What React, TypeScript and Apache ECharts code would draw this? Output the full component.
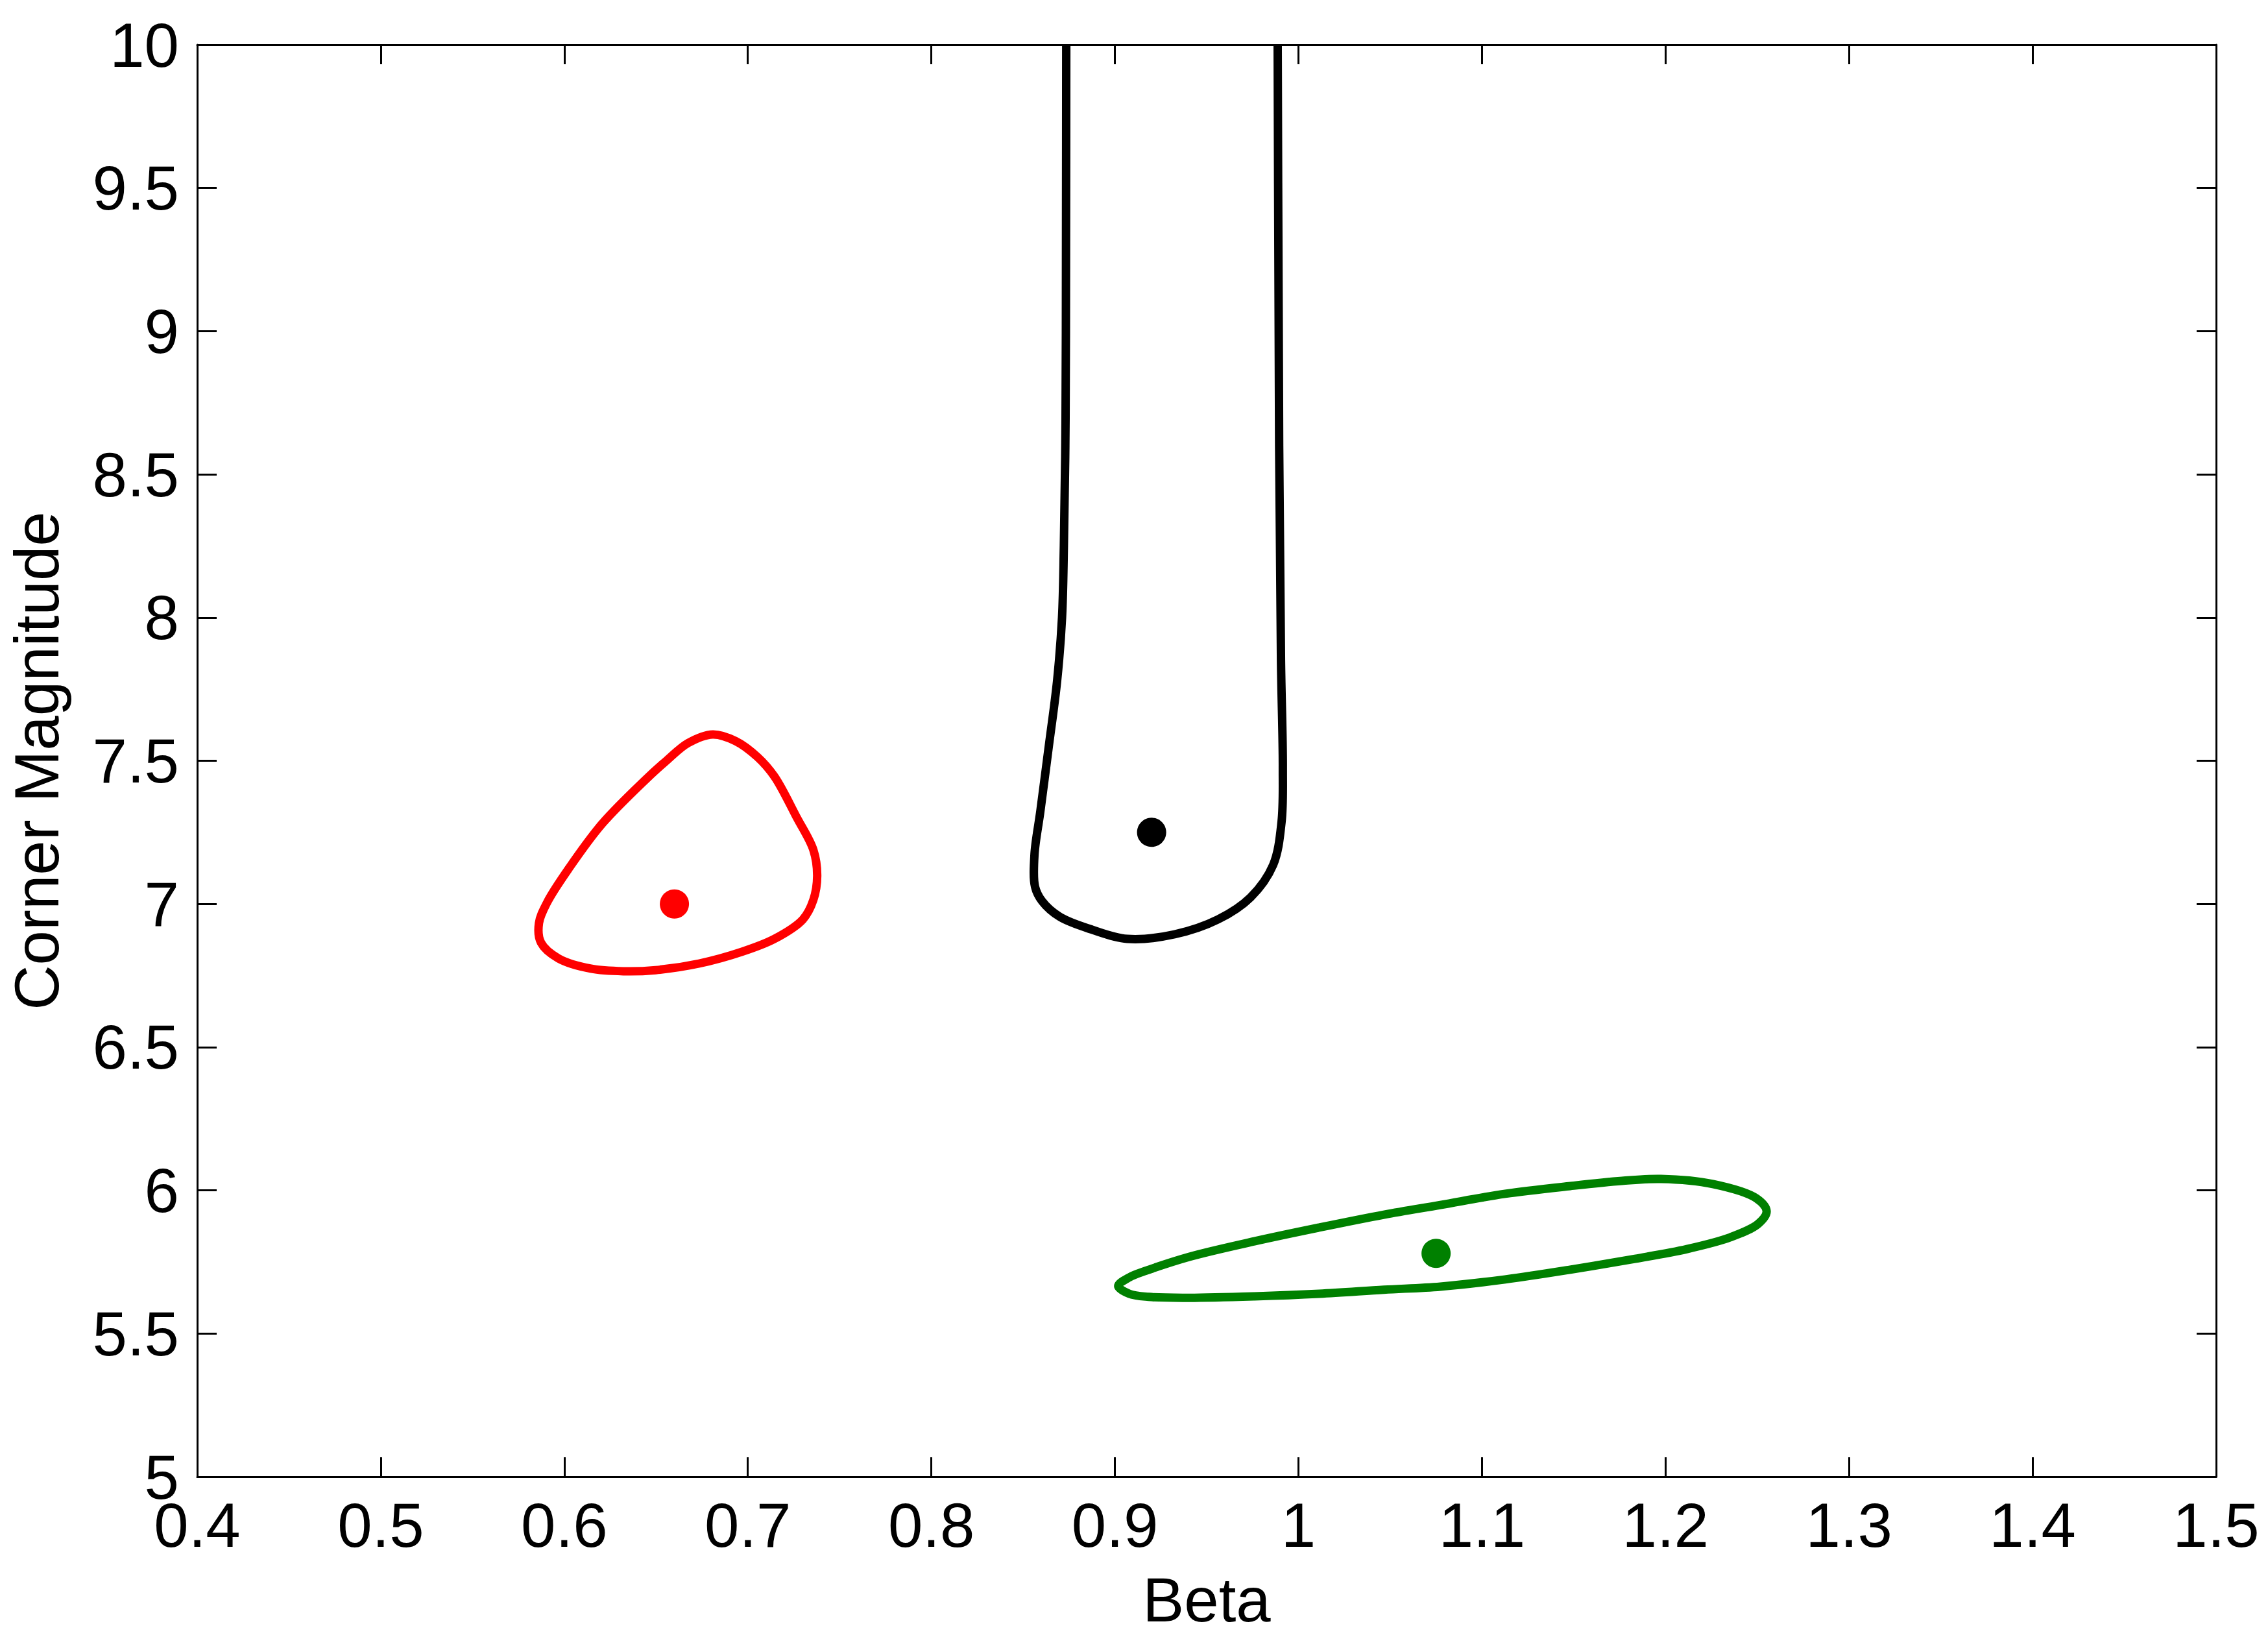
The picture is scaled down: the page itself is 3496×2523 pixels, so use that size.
import React, { useEffect, useRef } from "react";
import * as echarts from "echarts";

// Axis ranges / ticks
const betaMin = 0.4;
const betaMax = 1.5;
const betaStep = 0.1;
const magMin = 5;
const magMax = 10;
const magStep = 0.5;

// Red confidence contour (closed)
const redBeta = [0.6809, 0.6933, 0.7053, 0.7145, 0.7265, 0.7357, 0.7378, 0.7357, 0.73, 0.7145, 0.6968, 0.6735, 0.6498, 0.6322, 0.6145, 0.5968, 0.5873, 0.5862, 0.5908, 0.6028, 0.6205, 0.6438, 0.6558, 0.6675];
const redMag = [7.592, 7.569, 7.513, 7.445, 7.304, 7.189, 7.098, 7.014, 6.946, 6.878, 6.833, 6.792, 6.769, 6.765, 6.774, 6.81, 6.865, 6.933, 7.007, 7.127, 7.279, 7.431, 7.501, 7.562];

// Black confidence contour (open at the top of the plot)
const blackBeta = [0.8735, 0.8733, 0.873, 0.8722, 0.8712, 0.8685, 0.864, 0.8594, 0.8562, 0.8565, 0.8603, 0.87, 0.8876, 0.9067, 0.9325, 0.9562, 0.9739, 0.9862, 0.9908, 0.9915, 0.9905, 0.9895, 0.9887];
const blackMag = [10, 9.0, 8.6, 8.25, 8.0, 7.778, 7.551, 7.324, 7.173, 7.06, 7.01, 6.955, 6.91, 6.878, 6.894, 6.946, 7.023, 7.136, 7.286, 7.476, 7.85, 8.6, 10];

// Green confidence contour (closed)
const greenBeta = [0.9018, 0.9078, 0.9173, 0.9406, 0.976, 1.0113, 1.0466, 1.0774, 1.1127, 1.1481, 1.1763, 1.1975, 1.2258, 1.2495, 1.2551, 1.2505, 1.2353, 1.2117, 1.1834, 1.1481, 1.1127, 1.0774, 1.0466, 1.0113, 0.976, 0.9406, 0.9184, 0.9078];
const greenMag = [5.666, 5.696, 5.72, 5.768, 5.822, 5.87, 5.915, 5.949, 5.988, 6.015, 6.033, 6.04, 6.022, 5.972, 5.927, 5.883, 5.836, 5.795, 5.761, 5.723, 5.689, 5.664, 5.653, 5.639, 5.63, 5.625, 5.628, 5.639];

// Best-fit points
const bestBeta = [0.66, 0.92, 1.075];
const bestMag = [7.0, 7.25, 5.78];
const bestColors = ["#ff0000", "#000000", "#008000"];

const xTitle = "Beta";
const yTitle = "Corner Magnitude";

const FONT = "'Liberation Sans', Arial, Helvetica, sans-serif";

// Centripetal Catmull-Rom spline through pixel points, as SVG path data
function splinePath(pts: number[][], closed: boolean): string {
  const n = pts.length;
  const get = (i: number) => {
    if (closed) return pts[((i % n) + n) % n];
    return pts[Math.max(0, Math.min(n - 1, i))];
  };
  const segs = closed ? n : n - 1;
  let d = `M${pts[0][0]},${pts[0][1]}`;
  for (let i = 0; i < segs; i++) {
    const p0 = get(i - 1), p1 = get(i), p2 = get(i + 1), p3 = get(i + 2);
    const dist = (a: number[], b: number[]) => Math.sqrt(Math.hypot(b[0] - a[0], b[1] - a[1]));
    const d1 = dist(p0, p1), d2 = dist(p1, p2), d3 = dist(p2, p3);
    let c1 = p1, c2 = p2;
    if (d1 > 1e-6) {
      const a = d1 * d1, b = d2 * d2;
      const den = 3 * d1 * (d1 + d2);
      c1 = [
        (a * p2[0] - b * p0[0] + (2 * a + 3 * d1 * d2 + b) * p1[0]) / den,
        (a * p2[1] - b * p0[1] + (2 * a + 3 * d1 * d2 + b) * p1[1]) / den,
      ];
    } else {
      c1 = [p1[0] + (p2[0] - p1[0]) / 3, p1[1] + (p2[1] - p1[1]) / 3];
    }
    if (d3 > 1e-6) {
      const a = d3 * d3, b = d2 * d2;
      const den = 3 * d3 * (d3 + d2);
      c2 = [
        (a * p1[0] - b * p3[0] + (2 * a + 3 * d3 * d2 + b) * p2[0]) / den,
        (a * p1[1] - b * p3[1] + (2 * a + 3 * d3 * d2 + b) * p2[1]) / den,
      ];
    } else {
      c2 = [p2[0] - (p2[0] - p1[0]) / 3, p2[1] - (p2[1] - p1[1]) / 3];
    }
    d += ` C${c1[0]},${c1[1]} ${c2[0]},${c2[1]} ${p2[0]},${p2[1]}`;
  }
  if (closed) d += " Z";
  return d;
}

export default function App() {
  const ref = useRef<HTMLDivElement>(null);
  useEffect(() => {
    if (!ref.current) return;
    const chart = echarts.init(ref.current, undefined, { renderer: "svg" });
    const axisLine = { show: true, onZero: false, lineStyle: { color: "#000", width: 3 } };
    const tick = { show: true, inside: true, length: 30, lineStyle: { color: "#000", width: 3 } };
    const label = { color: "#000", fontSize: 96, fontFamily: FONT };
    const contour = (beta: number[], mag: number[], color: string, closed: boolean) => ({
      type: "custom",
      coordinateSystem: "cartesian2d",
      xAxisIndex: 0,
      yAxisIndex: 0,
      data: [[beta[0], mag[0]]],
      encode: { x: 0, y: 1 },
      z: 3,
      silent: true,
      renderItem: (_params: any, api: any) => {
        const pts = beta.map((b, i) => api.coord([b, mag[i]]));
        return {
          type: "path",
          shape: { pathData: splinePath(pts, closed) },
          style: { stroke: color, fill: "none", lineWidth: 13, lineJoin: "round", lineCap: "butt" },
        };
      },
    });
    chart.setOption({
      animation: false,
      backgroundColor: "#fff",
      grid: { left: 303, right: 80, top: 69, bottom: 247, containLabel: false },
      xAxis: [
        {
          type: "value",
          min: betaMin,
          max: betaMax,
          interval: betaStep,
          position: "bottom",
          axisLine,
          axisTick: tick,
          splitLine: { show: false },
          axisLabel: { ...label, margin: 26 },
          name: xTitle,
          nameLocation: "middle",
          nameGap: 141,
          nameTextStyle: { color: "#000", fontSize: 96, fontFamily: FONT },
        },
        {
          type: "value",
          min: betaMin,
          max: betaMax,
          interval: betaStep,
          position: "top",
          axisLine,
          axisTick: tick,
          splitLine: { show: false },
          axisLabel: { show: false },
        },
      ],
      yAxis: [
        {
          type: "value",
          min: magMin,
          max: magMax,
          interval: magStep,
          position: "left",
          axisLine,
          axisTick: tick,
          splitLine: { show: false },
          axisLabel: { ...label, margin: 28 },
          name: yTitle,
          nameLocation: "middle",
          nameRotate: 90,
          nameGap: 200,
          nameTextStyle: { color: "#000", fontSize: 96, fontFamily: FONT },
        },
        {
          type: "value",
          min: magMin,
          max: magMax,
          interval: magStep,
          position: "right",
          axisLine,
          axisTick: tick,
          splitLine: { show: false },
          axisLabel: { show: false },
        },
      ],
      series: [
        contour(redBeta, redMag, "#ff0000", true),
        contour(blackBeta, blackMag, "#000000", false),
        contour(greenBeta, greenMag, "#008000", true),
        {
          type: "scatter",
          symbol: "circle",
          symbolSize: 45,
          z: 4,
          data: bestBeta.map((b, i) => ({
            value: [b, bestMag[i]],
            itemStyle: { color: bestColors[i], opacity: 1 },
          })),
        },
      ],
    });
    return () => chart.dispose();
  }, []);
  return (
    <div
      ref={ref}
      style={{ position: "fixed", left: 0, top: 0, width: 3496, height: 2523, background: "#fff" }}
    />
  );
}
